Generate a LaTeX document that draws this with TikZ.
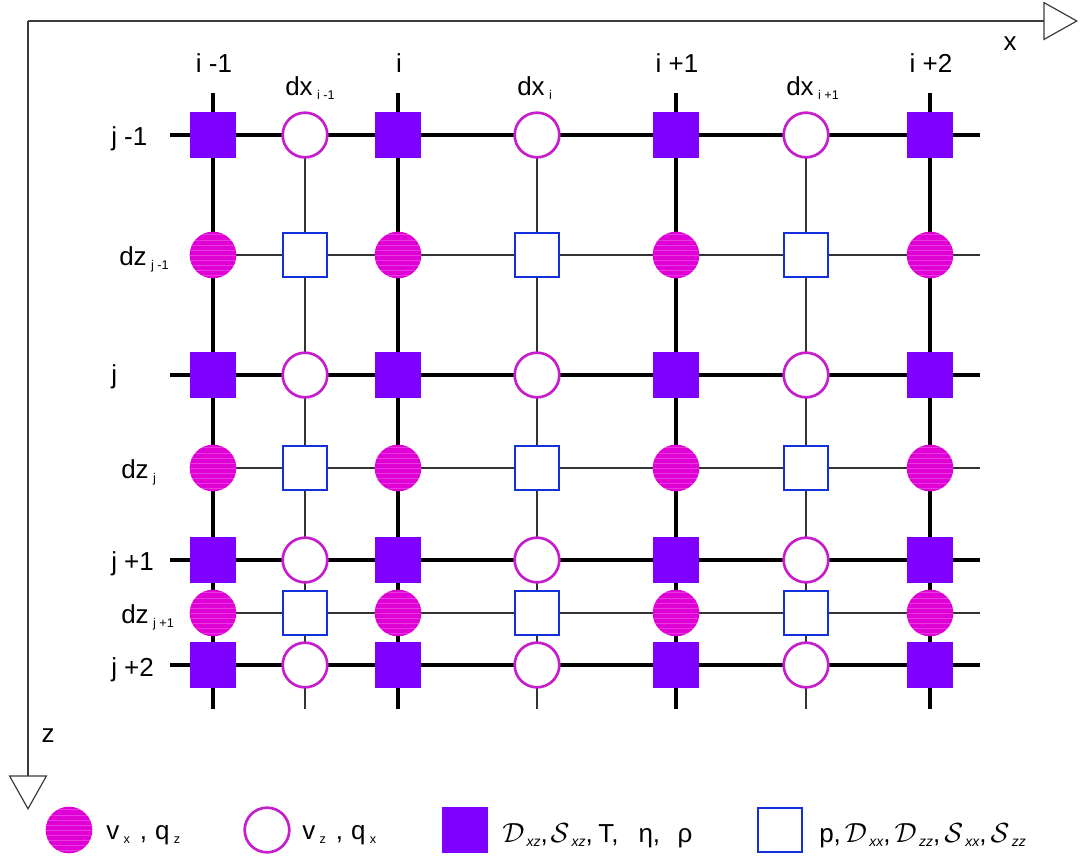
\documentclass[tikz,border=0pt]{standalone}
\usepackage{fontspec}
\setmainfont{Liberation Sans}
\usetikzlibrary{arrows.meta}

\definecolor{violetfill}{HTML}{8000FF}
\definecolor{magfill}{HTML}{E000D6}
\definecolor{magline}{HTML}{C61ECC}
\definecolor{blueline}{HTML}{1430DC}
\definecolor{axisgray}{HTML}{3C3C3C}

% small lowered index in the text font
\newcommand\lowidx[1]{\,\raisebox{-0.35ex}{\fontsize{9.5}{10}\selectfont #1}}
% calligraphic symbol with a small italic index
\newcommand\calidx[2]{{\fontsize{21}{24}\selectfont$\mathcal{#1}$}\raisebox{-0.3ex}{\fontsize{10.5}{10}\selectfont\itshape\,#2}}

\tikzset{
  gridthick/.style={line width=3.4pt, black},
  gridthin/.style={line width=0.9pt, black!80},
  axisline/.style={line width=0.9pt, axisgray},
  stagger/.style={inner sep=0pt, outer sep=0pt},
  vsq/.style={stagger, rectangle, minimum size=35pt, fill=violetfill},
  mcirc/.style={stagger, circle, minimum size=35pt, fill=magfill,
    path picture={
      \foreach \k in {-4,...,4}
        \draw[white, opacity=0.22, line width=0.4pt]
          ([yshift=\k*3.8pt]path picture bounding box.west) --
          ([yshift=\k*3.8pt]path picture bounding box.east);
    }},
  ocirc/.style={stagger, circle, minimum size=33.5pt, draw=magline, line width=2pt, fill=white},
  bsq/.style={stagger, rectangle, minimum size=33.5pt, draw=blueline, line width=1.6pt, fill=white},
  lab/.style={font=\fontsize{19.5}{22}\selectfont, inner sep=0pt},
}

\begin{document}
\begin{tikzpicture}[x=0.75pt, y=-0.75pt]
\useasboundingbox (0,0) rectangle (1086,861);

% axes
\coordinate (O) at (28,21);
\coordinate (xend) at (1078,21);
\coordinate (zend) at (28,810);
\draw[axisline, -{Triangle[open, length=26pt, width=29pt, line width=0.9pt]}] (O) -- (xend);
\draw[axisline, -{Triangle[open, length=26pt, width=29pt, line width=0.9pt]}] (O) -- (zend);
\node[lab, anchor=base] (xlab) at (1010,50) {x};
\node[lab, anchor=base] (zlab) at (48,742) {z};

% thin grid lines through the staggered points
\foreach \x [count=\a] in {305,537,806} {
  \coordinate (t\a) at (\x,135);
  \coordinate (b\a) at (\x,709);
  \draw[gridthin] (t\a) -- (b\a);
}
\foreach \y [count=\a] in {255,468,613} {
  \coordinate (l\a) at (213,\y);
  \coordinate (r\a) at (980,\y);
  \draw[gridthin] (l\a) -- (r\a);
}
% thick grid lines through the main points
\foreach \x [count=\a] in {213,398,676,930} {
  \coordinate (T\a) at (\x,93);
  \coordinate (B\a) at (\x,709);
  \draw[gridthick] (T\a) -- (B\a);
}
\foreach \y [count=\a] in {135,375,560,665} {
  \coordinate (L\a) at (170,\y);
  \coordinate (R\a) at (980,\y);
  \draw[gridthick] (L\a) -- (R\a);
}

% grid variables
\foreach \x [count=\a] in {213,398,676,930} {
  \foreach \y [count=\b] in {135,375,560,665}
    \node[vsq] (s-\a-\b) at (\x,\y) {};
  \foreach \y [count=\b] in {255,468,613}
    \node[mcirc] (m-\a-\b) at (\x,\y) {};
}
\foreach \x [count=\a] in {305,537,806} {
  \foreach \y [count=\b] in {135,375,560,665}
    \node[ocirc] (o-\a-\b) at (\x,\y) {};
  \foreach \y [count=\b] in {255,468,613}
    \node[bsq] (q-\a-\b) at (\x,\y) {};
}

% column labels
\node[lab, anchor=base] (ci1) at (214,72) {i -1};
\node[lab, anchor=base] (ci2) at (399,72) {i};
\node[lab, anchor=base] (ci3) at (677,72) {i +1};
\node[lab, anchor=base] (ci4) at (931,72) {i +2};
\node[lab, anchor=base west] (dx1) at (285,95) {dx\lowidx{i -1}};
\node[lab, anchor=base west] (dx2) at (517,95) {dx\lowidx{i}};
\node[lab, anchor=base west] (dx3) at (786,95) {dx\lowidx{i +1}};

% row labels
\node[lab, anchor=base west] (rj1) at (111,145) {j -1};
\node[lab, anchor=base west] (dz1) at (119,265) {dz\lowidx{j -1}};
\node[lab, anchor=base west] (rj2) at (111,383) {j};
\node[lab, anchor=base west] (dz2) at (121,478) {dz\lowidx{j}};
\node[lab, anchor=base west] (rj3) at (111,570) {j +1};
\node[lab, anchor=base west] (dz3) at (121,623) {dz\lowidx{j +1}};
\node[lab, anchor=base west] (rj4) at (111,676) {j +2};

% legend
\node[mcirc] (k1) at (69,830) {};
\node[lab, anchor=base west] (k1t) at (106,839) {v\lowidx{x}\hspace{2pt} ,\hspace{6pt}q\lowidx{z}};
\node[ocirc] (k2) at (267,830) {};
\node[lab, anchor=base west] (k2t) at (302,839) {v\lowidx{z}\hspace{2pt} ,\hspace{6pt}q\lowidx{x}};
\node[vsq] (k3) at (465,830) {};
\node[lab, anchor=base west] (k3t) at (502,842)
  {\calidx{D}{xz},\hspace{2pt}\calidx{S}{xz},\hspace{4pt}T,\hspace{15pt}η,\hspace{13pt}ρ};
\node[bsq] (k4) at (780,830) {};
\node[lab, anchor=base west] (k4t) at (819,842)
  {p,\hspace{3pt}\calidx{D}{xx},\hspace{3pt}\calidx{D}{zz},\hspace{3pt}\calidx{S}{xx},\hspace{3pt}\calidx{S}{zz}};
\end{tikzpicture}
\end{document}
